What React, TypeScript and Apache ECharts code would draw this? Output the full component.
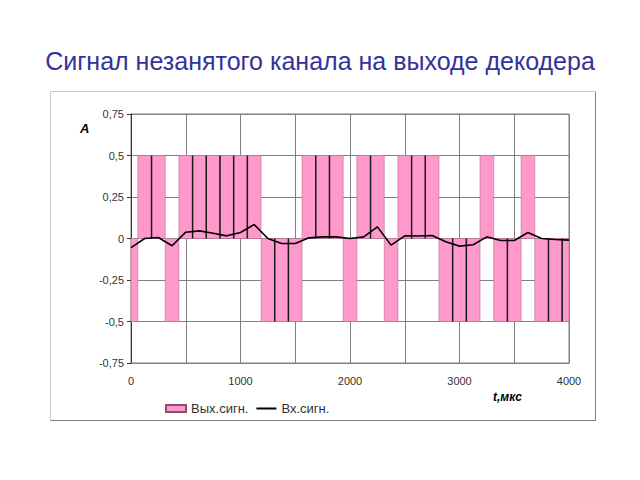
import React, { useEffect, useRef } from "react";
import * as echarts from "echarts";

// Output signal (bars), one per 125 µs slot, centered at these times
const barTimes = [0, 125, 250, 375, 500, 625, 750, 875, 1000, 1125, 1250, 1375, 1500, 1625, 1750, 1875, 2000, 2125, 2250, 2375, 2500, 2625, 2750, 2875, 3000, 3125, 3250, 3375, 3500, 3625, 3750, 3875, 4000];
const outValues = [-0.5, 0.5, 0.5, -0.5, 0.5, 0.5, 0.5, 0.5, 0.5, 0.5, -0.5, -0.5, -0.5, 0.5, 0.5, 0.5, -0.5, 0.5, 0.5, -0.5, 0.5, 0.5, 0.5, -0.5, -0.5, -0.5, 0.5, -0.5, -0.5, 0.5, -0.5, -0.5, -0.5];
// Input signal (line)
const inTimes = barTimes;
const inValues = [-0.055, 0.0, 0.006, -0.044, 0.038, 0.046, 0.032, 0.016, 0.036, 0.084, 0.0, -0.03, -0.03, 0.004, 0.01, 0.01, 0.0, 0.01, 0.07, -0.04, 0.016, 0.015, 0.018, -0.02, -0.046, -0.038, 0.01, -0.012, -0.012, 0.036, 0.0, -0.006, -0.01];

const xTicks = { min: 0, max: 4000, step: 500, labelStep: 1000 };
const yTicks = { min: -0.75, max: 0.75, step: 0.25 };

const titleText = "Сигнал незанятого канала на выходе декодера";
const seriesNames = ["Вых.сигн.", "Вх.сигн."];

export default function App() {
  const ref = useRef<HTMLDivElement>(null);
  useEffect(() => {
    if (!ref.current) return;
    const chart = echarts.init(ref.current, null, { renderer: "svg" });
    const slot = barTimes[1] - barTimes[0];
    const font = "Arial, 'Liberation Sans', sans-serif";
    chart.setOption({
      animation: false,
      backgroundColor: "#ffffff",
      title: {
        text: titleText,
        left: "center",
        top: 43,
        textStyle: { color: "#333399", fontSize: 25, fontWeight: "normal", fontFamily: font },
      },
      grid: {
        left: 131,
        top: 114,
        width: 438,
        height: 249,
        show: true,
        borderColor: "#808080",
        borderWidth: 1,
        backgroundColor: "#ffffff",
      },
      legend: {
        left: 160,
        top: 397,
        itemWidth: 20,
        itemHeight: 7,
        itemGap: 7,
        textStyle: { fontSize: 13, color: "#333", fontFamily: font },
        data: [
          { name: seriesNames[0], icon: "rect" },
          { name: seriesNames[1], itemStyle: { opacity: 0 } },
        ],
      },
      xAxis: {
        type: "value",
        min: xTicks.min,
        max: xTicks.max,
        interval: xTicks.step,
        axisLine: { show: true, onZero: false, lineStyle: { color: "#808080" } },
        axisTick: { show: false },
        axisLabel: {
          margin: 12,
          fontSize: 11,
          color: "#333",
          fontFamily: font,
          formatter: (v: number) => (v % xTicks.labelStep === 0 ? String(v) : ""),
        },
        splitLine: { show: true, lineStyle: { color: "#808080", width: 1 } },
      },
      yAxis: {
        type: "value",
        min: yTicks.min,
        max: yTicks.max,
        interval: yTicks.step,
        axisLine: { show: true, onZero: false, lineStyle: { color: "#333" } },
        axisTick: { show: true, length: 4, lineStyle: { color: "#333" } },
        axisLabel: {
          margin: 7,
          fontSize: 11,
          color: "#333",
          fontFamily: font,
          formatter: (v: number) => String(Math.round(v * 100) / 100).replace(".", ","),
        },
        splitLine: { show: true, lineStyle: { color: "#808080", width: 1 } },
      },
      series: [
        {
          name: seriesNames[0],
          type: "custom",
          itemStyle: { color: "#FF99CC", borderColor: "#8a5070", borderWidth: 1 },
          data: barTimes.map((t, i) => [t, outValues[i]]),
          renderItem: (params: any, api: any) => {
            const i = params.dataIndex;
            const t = api.value(0);
            const v = api.value(1);
            const x0 = Math.max(xTicks.min, t - slot / 2);
            const x1 = Math.min(xTicks.max, t + slot / 2);
            const p0 = api.coord([x0, 0]);
            const p1 = api.coord([x1, v]);
            const children: any[] = [
              {
                type: "rect",
                shape: {
                  x: p0[0],
                  y: Math.min(p0[1], p1[1]),
                  width: p1[0] - p0[0],
                  height: Math.abs(p1[1] - p0[1]),
                },
                style: { fill: "#FF99CC", stroke: "#b07090", lineWidth: 0.6 },
              },
            ];
            if (i > 0 && Math.sign(outValues[i - 1]) === Math.sign(v)) {
              children.push({
                type: "line",
                shape: { x1: p0[0], y1: p0[1], x2: p0[0], y2: p1[1] },
                style: { stroke: "#1a1a1a", lineWidth: 1.5 },
              });
            }
            return { type: "group", children };
          },
          z: 2,
        },
        {
          name: seriesNames[1],
          type: "line",
          data: inTimes.map((t, i) => [t, inValues[i]]),
          symbol: "none",
          showSymbol: false,
          lineStyle: { color: "#000000", width: 1.6 },
          itemStyle: { color: "#000000" },
          z: 3,
        },
      ],
      graphic: [
        {
          type: "polyline",
          shape: { points: [[50.5, 420.5], [50.5, 91.5], [595.5, 91.5]] },
          style: { stroke: "#c8c8c8", fill: "none", lineWidth: 1 },
        },
        {
          type: "polyline",
          shape: { points: [[595.5, 91.5], [595.5, 420.5], [50.5, 420.5]] },
          style: { stroke: "#808080", fill: "none", lineWidth: 1 },
        },
        {
          type: "text",
          x: 80,
          y: 122,
          style: { text: "A", fontSize: 13, fontWeight: "bold", fontStyle: "italic", fill: "#000", fontFamily: font },
        },
        {
          type: "text",
          x: 493,
          y: 391,
          style: { text: "t,мкс", fontSize: 12, fontWeight: "bold", fontStyle: "italic", fill: "#000", fontFamily: font },
        },
      ],
    });
    return () => chart.dispose();
  }, []);
  return (
    <div
      ref={ref}
      style={{ position: "fixed", left: 0, top: 0, width: 640, height: 480 }}
    />
  );
}
